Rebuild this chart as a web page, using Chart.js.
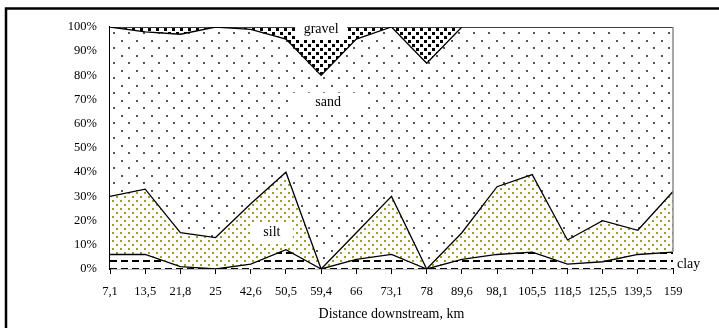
<!DOCTYPE html>
<html>
<head>
<meta charset="utf-8">
<script src="https://cdn.jsdelivr.net/npm/chart.js@4.4.1/dist/chart.umd.min.js"></script>
<style>
  html, body { margin: 0; padding: 0; background: #fff; }
</style>
</head>
<body>
<canvas id="grafica" width="719" height="328"></canvas>
<script>
// distance downstream, km (category labels)
var distances = ['7,1', '13,5', '21,8', '25', '42,6', '50,5', '59,4', '66', '73,1', '78',
  '89,6', '98,1', '105,5', '118,5', '125,5', '139,5', '159'];

// fractions, % (stacked from the bottom: clay, silt, sand, gravel)
var clay   = [6, 6, 1, 0, 2, 8, 0, 4, 6, 0, 4, 6, 7, 2, 3, 6, 7];
var silt   = [24, 27, 14, 13, 25, 32, 0, 11, 24, 0, 11, 28, 32, 10, 17, 10, 25];
var sand   = [70, 65, 82, 87, 72, 55, 80, 80, 70, 85, 85, 66, 61, 88, 80, 84, 68];
var gravel = [0, 2, 3, 0, 1, 5, 20, 5, 0, 15, 0, 0, 0, 0, 0, 0, 0];

var yticks = [0, 10, 20, 30, 40, 50, 60, 70, 80, 90, 100];

var canvas = document.getElementById('grafica');
var ctx = canvas.getContext('2d');

//makes a repeating fill from a small tile
function patron(w, h, dibujar) {
  var c = document.createElement('canvas');
  c.width = w;
  c.height = h;
  var t = c.getContext('2d');
  t.fillStyle = '#fff';
  t.fillRect(0, 0, w, h);
  dibujar(t);
  return ctx.createPattern(c, 'repeat');
}

var fillsand = patron(15, 15, function(t) {
  t.fillStyle = '#555';
  t.fillRect(8, 2, 2, 2);
  t.fillRect(1, 10, 2, 2);
});
var fillsilt = patron(8, 8, function(t) {
  t.fillStyle = '#9c9c38';
  t.fillRect(0, 0, 2, 2);
  t.fillRect(4, 4, 2, 2);
});
var fillgravel = patron(8, 8, function(t) {
  t.fillStyle = '#000';
  t.fillRect(0, 0, 3, 3);
  t.fillRect(4, 4, 3, 3);
});
var fillclay = patron(11, 8, function(t) {
  t.fillStyle = '#000';
  t.fillRect(0, 4, 7, 2);
});

// text labels inside the plot: index along x, value on y
var labels = [
  { text: 'gravel', i: 6, v: 99.2, box: [52, 19] },
  { text: 'sand', i: 6.2, v: 68.7, box: [80, 22] },
  { text: 'silt', i: 4.6, v: 15.3, box: [42, 21] }
];

var extras = {
  id: 'extras',
  afterDatasetsDraw: function(chart) {
    var c = chart.ctx;
    var x = chart.scales.x;
    var y = chart.scales.y;
    var area = chart.chartArea;
    c.save();

    // grey right edge of the plot
    var last = clay.length - 1;
    c.strokeStyle = '#8a8a8a';
    c.lineWidth = 1.5;
    c.beginPath();
    c.moveTo(area.right, area.top);
    c.lineTo(area.right, y.getPixelForValue(clay[last]));
    c.stroke();

    c.font = '14px "Liberation Serif"';
    c.textAlign = 'center';
    c.textBaseline = 'middle';
    labels.forEach(function(l) {
      var px = x.getPixelForValue(l.i);
      var py = y.getPixelForValue(l.v);
      c.fillStyle = '#fff';
      c.fillRect(px - l.box[0] / 2, py - l.box[1] / 2 + 1, l.box[0], l.box[1]);
      c.fillStyle = '#000';
      c.fillText(l.text, px, py);
    });

    // clay is labelled outside, right of the plot
    c.textAlign = 'left';
    c.fillText('clay', area.right + 4, y.getPixelForValue(1.8));
    c.fillRect(area.right, y.getPixelForValue(-1.5), 1, 1);

    // outer frame
    c.strokeStyle = '#000';
    c.lineWidth = 2.5;
    c.strokeRect(6, 8.5, 740, 340);
    c.restore();
  }
};

function serie(nombre, datos, relleno, fill) {
  return {
    label: nombre,
    data: datos,
    backgroundColor: relleno,
    borderColor: '#000',
    borderWidth: 1.3,
    pointRadius: 0,
    tension: 0,
    fill: fill
  };
}

var grafica = new Chart(ctx, {
  type: 'line',
  data: {
    labels: distances,
    datasets: [
      serie('clay', clay, fillclay, 'origin'),
      serie('silt', silt, fillsilt, '-1'),
      serie('sand', sand, fillsand, '-1'),
      serie('gravel', gravel, fillgravel, '-1')
    ]
  },
  options: {
    responsive: false,
    animation: false,
    devicePixelRatio: 1,
    layout: { padding: { top: 27, right: 46, left: 0, bottom: 0 } },
    plugins: {
      legend: { display: false },
      tooltip: { enabled: false }
    },
    scales: {
      x: {
        afterFit: function(s) { s.height = 59; },
        grid: { display: true, drawOnChartArea: false, tickLength: 5, color: '#000' },
        border: { display: true, color: '#000', width: 1.2 },
        ticks: {
          autoSkip: false, maxRotation: 0, padding: 10, color: '#000',
          font: { family: 'Liberation Serif', size: 12.5 }
        },
        title: {
          display: true,
          text: 'Distance downstream, km',
          color: '#000',
          font: { family: 'Liberation Serif', size: 14 },
          padding: { top: 0, bottom: 5 }
        }
      },
      y: {
        stacked: true,
        min: 0,
        max: 100,
        afterFit: function(s) { s.width = 110; },
        afterBuildTicks: function(s) {
          s.ticks = yticks.map(function(v) { return { value: v }; });
        },
        grid: { display: true, drawOnChartArea: false, drawTicks: false, color: 'rgba(0,0,0,0)' },
        border: { display: true, color: '#000', width: 1.2 },
        ticks: {
          padding: 13, color: '#000',
          font: { family: 'Liberation Serif', size: 12.5 },
          callback: function(v) { return v + '%'; }
        }
      }
    }
  },
  plugins: [extras]
});
</script>
</body>
</html>
